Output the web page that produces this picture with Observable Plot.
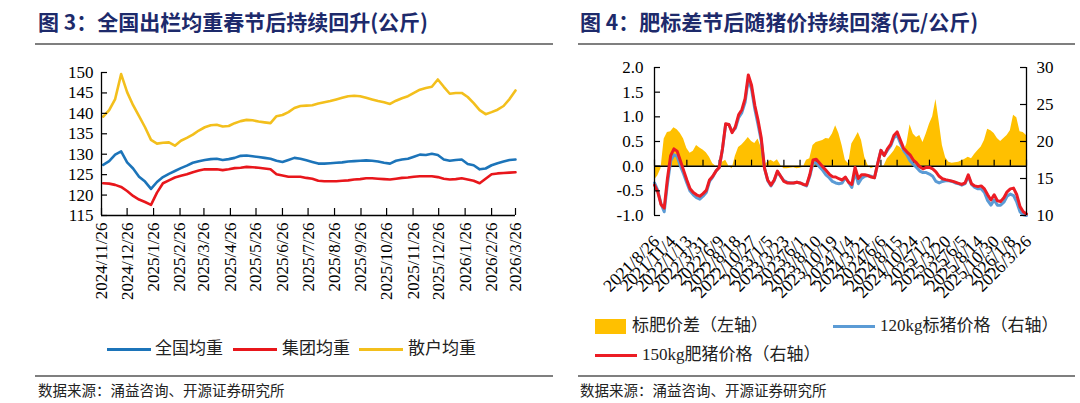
<!DOCTYPE html>
<html><head><meta charset="utf-8">
<script src="https://cdn.jsdelivr.net/npm/d3@7"></script>
<script src="https://cdn.jsdelivr.net/npm/@observablehq/plot@0.6"></script>
<style>
html,body{margin:0;padding:0;background:#fff;}
body{width:1080px;height:403px;position:relative;overflow:hidden;font-family:"Liberation Serif","Noto Sans CJK SC",serif;}
.abs{position:absolute;white-space:nowrap;}
.title{font-family:"Noto Sans CJK SC";font-weight:700;color:#1d2a6b;font-size:21px;line-height:21px;}
.hr{position:absolute;background:#7f7f7f;}
.src{font-family:"Noto Sans CJK SC";font-size:14.5px;line-height:16px;color:#222;}
.leg{font-family:"Liberation Serif","Noto Sans CJK SC";font-size:17px;line-height:18px;color:#222;}
.plot{position:absolute;}
</style></head><body>
<script>
// ---------- Left chart data (weekly, kg) ----------
const leftTickLabels = ["2024/11/26","2024/12/26","2025/1/26","2025/2/26","2025/3/26","2025/4/26","2025/5/26","2025/6/26","2025/7/26","2025/8/26","2025/9/26","2025/10/26","2025/11/26","2025/12/26","2026/1/26","2026/2/26","2026/3/26"];
const leftYTicks = [115,120,125,130,135,140,145,150];
const leftFirstWeek = "2024/11/28";
const nationalAvg = [127.4,128.3,129.9,130.7,128.0,126.5,124.5,123.3,121.5,123.2,
124.4,125.2,125.9,126.6,127.2,127.9,128.3,128.6,128.8,128.9,
128.6,128.8,129.1,129.6,129.7,129.5,129.3,129.1,128.9,128.4,
128.1,128.6,129.1,128.9,128.5,128.1,127.7,127.7,127.8,127.9,
128.0,128.2,128.3,128.4,128.5,128.4,128.2,127.9,127.7,128.4,
128.7,128.9,129.4,129.9,129.8,130.1,129.8,128.7,128.4,128.6,
128.7,127.6,127.3,126.3,126.5,127.3,127.8,128.2,128.6,128.7];
const groupAvg = [122.9,122.8,122.5,122.0,121.0,119.8,118.9,118.3,117.6,120.6,
122.9,123.6,124.3,124.7,125.1,125.6,126.0,126.3,126.3,126.3,
126.1,126.3,126.6,126.7,126.9,126.8,126.7,126.5,126.3,125.1,
124.8,124.5,124.5,124.5,124.2,124.0,123.5,123.4,123.4,123.4,
123.5,123.6,123.8,123.9,124.1,124.1,124.0,123.9,123.8,124.0,
124.2,124.3,124.5,124.6,124.6,124.6,124.4,124.0,123.8,123.9,
124.1,123.8,123.5,122.9,124.0,125.1,125.3,125.4,125.5,125.6];
const retailAvg = [139.2,140.8,143.5,149.6,145.2,142.0,139.3,136.6,133.5,132.6,
132.8,132.9,132.1,133.3,134.0,134.8,135.8,136.6,137.1,137.2,
136.8,136.9,137.6,138.1,138.4,138.3,138.0,137.8,137.6,139.3,
139.6,140.3,141.3,141.8,141.9,142.0,142.4,142.7,143.0,143.4,
143.8,144.2,144.3,144.2,143.8,143.4,143.0,142.7,142.3,143.1,
143.7,144.2,145.0,145.8,146.2,146.5,148.3,146.5,144.8,145.0,
145.0,144.0,142.5,140.8,139.8,140.3,140.9,141.8,143.5,145.6];
const leftSeriesNames = ["全国均重","集团均重","散户均重"];
const leftColors = ["#1c74b9","#e8161b","#f3bf1c"];

// ---------- Right chart data (every 2 weeks) ----------
const rightTickLabels = ["2021/8/26","2021/11/4","2022/1/13","2022/3/31","2022/6/9","2022/8/18","2022/10/27","2023/1/5","2023/3/23","2023/6/1","2023/8/10","2023/10/19","2024/1/4","2024/3/21","2024/6/6","2024/8/15","2024/10/24","2025/1/2","2025/3/20","2025/6/5","2025/8/14","2025/10/30","2026/1/8","2026/3/26"];
const leftAxisTicks = [-1,-0.5,0,0.5,1,1.5,2];
const rightAxisTicks = [10,15,20,25,30];
const spreadDiff = [-0.28,-0.2,-0.05,0.55,0.68,0.70,0.78,0.74,0.66,0.55,
0.36,0.26,0.30,0.42,0.37,0.33,0.27,0.18,0.05,0.0,
-0.02,0.08,0.12,0.0,-0.05,0.2,0.38,0.43,0.50,0.58,
0.50,0.46,0.55,0.38,0.02,0.08,0.12,0.08,0.13,0.02,
-0.05,-0.05,-0.04,-0.03,-0.05,-0.04,-0.02,0.12,0.15,0.42,
0.48,0.50,0.52,0.56,0.55,0.65,0.82,0.66,0.42,0.12,
0.05,0.45,0.56,0.68,0.52,0.18,0.02,-0.05,-0.02,0.0,
-0.02,0.01,0.15,0.22,0.30,0.42,0.38,0.28,0.45,0.84,
0.65,0.58,0.62,0.48,0.65,0.85,1.0,1.35,0.9,0.42,
0.17,0.08,0.06,0.07,0.08,0.11,0.14,0.18,0.15,0.24,
0.32,0.39,0.52,0.75,0.72,0.66,0.56,0.50,0.56,0.62,
0.72,1.03,0.98,0.70,0.68,0.62];
const price120 = [14.4,13.4,11.6,10.5,14.3,17.4,18.2,18.0,16.7,15.6,
14.4,13.3,12.8,12.4,12.2,12.6,13.1,14.6,15.2,16.0,
16.5,18.9,22.3,22.3,21.3,21.8,23.2,23.9,25.3,28.4,
27.1,24.4,22.3,20.1,16.4,14.7,14.0,14.7,15.9,15.3,
14.7,14.5,14.4,14.4,14.5,14.4,14.2,14.0,15.3,17.1,
17.1,16.6,16.1,15.5,15.1,14.6,14.4,14.3,14.4,15.1,
14.5,13.8,15.9,14.3,15.0,15.3,15.4,15.3,15.1,17.0,
18.8,18.1,18.8,19.4,20.5,20.9,19.8,18.8,18.2,17.4,
16.9,16.5,16.0,15.8,15.8,15.6,15.3,14.6,14.4,14.6,
14.7,14.7,14.6,14.4,14.3,14.1,14.3,15.3,14.2,13.8,
13.6,13.6,13.1,12.0,11.4,12.1,11.4,11.4,11.8,12.6,
12.9,12.7,11.8,10.5,10.1,10.0];
const price150 = [14.1,13.2,11.5,11.0,15.0,18.1,19.0,18.7,17.4,16.1,
14.8,13.6,13.1,12.8,12.6,12.95,13.4,14.8,15.3,16.0,
16.5,19.0,22.4,22.3,21.2,22.0,23.6,24.3,25.8,29.0,
27.6,24.9,22.9,20.5,16.4,14.8,14.1,14.8,16.0,15.3,
14.6,14.4,14.4,14.4,14.5,14.4,14.2,14.1,15.5,17.5,
17.6,17.1,16.6,16.1,15.6,15.25,15.2,14.97,14.8,15.2,
14.5,14.2,16.5,15.0,15.5,15.5,15.4,15.2,15.1,17.0,
18.8,18.1,19.0,19.6,20.8,21.3,20.2,19.1,18.6,18.2,
17.5,17.1,16.6,16.3,16.5,16.5,16.3,15.9,15.3,14.97,
14.85,14.75,14.65,14.5,14.35,14.2,14.4,15.5,14.3,14.0,
13.9,14.0,13.6,12.8,12.1,12.8,12.0,11.9,12.4,13.2,
13.6,13.7,12.8,11.2,10.5,10.2];
const rightSeriesNames = ["标肥价差（左轴）","120kg标猪价格（右轴）","150kg肥猪价格（右轴）"];
const rightColors = ["#ffc000","#5b9bd5","#ec1c24"];

// ---------- page furniture ----------
function el(cls, style, text){
  const d = document.createElement("div");
  d.className = cls; Object.assign(d.style, style); if (text != null) d.textContent = text;
  document.body.appendChild(d); return d;
}
el("abs title", {left:"38px", top:"11px"}, "图 3：全国出栏均重春节后持续回升(公斤)");
el("abs title", {left:"580px", top:"11px"}, "图 4：肥标差节后随猪价持续回落(元/公斤)");
el("hr", {left:"35px", top:"43px", width:"518px", height:"2px"});
el("hr", {left:"578px", top:"43px", width:"497px", height:"2px"});
el("hr", {left:"35px", top:"375px", width:"518px", height:"1.5px"});
el("hr", {left:"578px", top:"375px", width:"497px", height:"1.5px"});
el("abs src", {left:"38px", top:"382px"}, "数据来源：涌益咨询、开源证券研究所");
el("abs src", {left:"580px", top:"382px"}, "数据来源：涌益咨询、开源证券研究所");

// ---------- left chart ----------
const parse = d3.utcParse("%Y/%m/%d");
const leftTickDates = leftTickLabels.map(parse);
const labelByTime = new Map(leftTickDates.map((d, i) => [+d, leftTickLabels[i]]));
const start = parse(leftFirstWeek);
const leftData = nationalAvg.map((v, i) => ({date: d3.utcDay.offset(start, 7 * i), a: v, b: groupAvg[i], c: retailAvg[i]}));
const lx0 = leftTickDates[0], lx1 = leftTickDates[leftTickDates.length - 1];

const leftPlot = Plot.plot({
  width: 540, height: 250,
  marginLeft: 101, marginRight: 25, marginTop: 12, marginBottom: 95,
  x: {type: "utc", domain: [lx0, lx1]},
  y: {domain: [115, 150]},
  style: {fontFamily: "Liberation Serif", fontSize: "17px", color: "#000", background: "transparent"},
  marks: [
    Plot.line(leftData, {x: "date", y: "c", stroke: leftColors[2], strokeWidth: 2.6}),
    Plot.line(leftData, {x: "date", y: "a", stroke: leftColors[0], strokeWidth: 2.6}),
    Plot.line(leftData, {x: "date", y: "b", stroke: leftColors[1], strokeWidth: 2.6}),
    Plot.ruleX([lx0], {x: d => d, stroke: "#000", strokeWidth: 1.3}),
    Plot.ruleY([115], {y: d => d, stroke: "#000", strokeWidth: 1.3}),
    Plot.ruleY(leftYTicks, {y: d => d, x1: () => lx0, x2: () => lx0, insetRight: -6, stroke: "#000", strokeWidth: 1.2}),
    Plot.ruleX(leftTickDates, {x: d => d, y1: () => 115, y2: () => 115, insetBottom: 7, stroke: "#000", strokeWidth: 1.2}),
    Plot.axisY({ticks: leftYTicks, tickSize: 0, tickPadding: 8, label: null}),
    Plot.axisX({ticks: leftTickDates, tickFormat: d => labelByTime.get(+d), tickRotate: -90, tickSize: 0, tickPadding: 7, label: null})
  ]
});
leftPlot.classList.add("plot");
Object.assign(leftPlot.style, {left: "0px", top: "60px"});
document.body.appendChild(leftPlot);

// left legend
const legL = [[107, 155], [233, 282], [359, 408]];
leftSeriesNames.forEach((name, i) => {
  el("abs", {left: legL[i][0] + "px", top: "348px", width: "44px", height: "3px", background: leftColors[i]});
  el("abs leg", {left: legL[i][1] + "px", top: "340px"}, name);
});

// ---------- right chart ----------
const rightTicks = rightTickLabels.map((_, i) => i * 10);
const rightData = price150.map((v, i) => ({w: i * 2, red: v, blue: price120[i], spread: spreadDiff[i]}));
const wMax = rightTicks[rightTicks.length - 1];
const toL = v => (v - 10) * 3 / 20 - 1;
const fromL = y => (y + 1) * 20 / 3 + 10;

const rightPlot = Plot.plot({
  width: 500, height: 255,
  marginLeft: 74, marginRight: 54, marginTop: 12, marginBottom: 95,
  x: {domain: [0, wMax], axis: null},
  y: {domain: [-1, 2]},
  style: {fontFamily: "Liberation Serif", fontSize: "17px", color: "#000", background: "transparent"},
  marks: [
    Plot.areaY(rightData, {x: "w", y: "spread", fill: rightColors[0]}),
    Plot.ruleY([0], {y: d => d, stroke: "#000", strokeWidth: 1.5}),
    Plot.ruleX(rightTicks, {x: d => d, y1: () => 0, y2: () => 0, insetBottom: 6, stroke: "#000", strokeWidth: 1.2}),
    Plot.line(rightData, {x: "w", y: d => toL(d.blue), stroke: rightColors[1], strokeWidth: 3}),
    Plot.line(rightData, {x: "w", y: d => toL(d.red), stroke: rightColors[2], strokeWidth: 3}),
    Plot.ruleX([0, wMax], {x: d => d, stroke: "#000", strokeWidth: 1.3}),
    Plot.ruleY(leftAxisTicks, {y: d => d, x1: () => 0, x2: () => 0, insetRight: -6, stroke: "#000", strokeWidth: 1.2}),
    Plot.ruleY(rightAxisTicks.map(toL), {y: d => d, x1: () => wMax, x2: () => wMax, insetLeft: -6, stroke: "#000", strokeWidth: 1.2}),
    Plot.axisY({ticks: leftAxisTicks, tickFormat: d => d.toFixed(1), tickSize: 0, tickPadding: 11, label: null}),
    Plot.axisY({anchor: "right", ticks: rightAxisTicks.map(toL), tickFormat: d => String(Math.round(fromL(d))), tickSize: 0, tickPadding: 10, label: null}),
    Plot.text(rightTicks, {x: d => d, frameAnchor: "bottom", text: (d, i) => rightTickLabels[i], rotate: -45, textAnchor: "end", dy: 27, dx: 6, fontSize: 17.5})
  ]
});
rightPlot.classList.add("plot");
Object.assign(rightPlot.style, {left: "580px", top: "55px"});
document.body.appendChild(rightPlot);

// right legend
el("abs", {left: "595px", top: "319px", width: "31px", height: "15px", background: rightColors[0]});
el("abs leg", {left: "632px", top: "317px"}, rightSeriesNames[0]);
el("abs", {left: "833px", top: "325px", width: "42px", height: "3px", background: rightColors[1]});
el("abs leg", {left: "880px", top: "317px"}, rightSeriesNames[1]);
el("abs", {left: "595px", top: "354px", width: "42px", height: "3px", background: rightColors[2]});
el("abs leg", {left: "642px", top: "346px"}, rightSeriesNames[2]);
</script>
</body></html>
